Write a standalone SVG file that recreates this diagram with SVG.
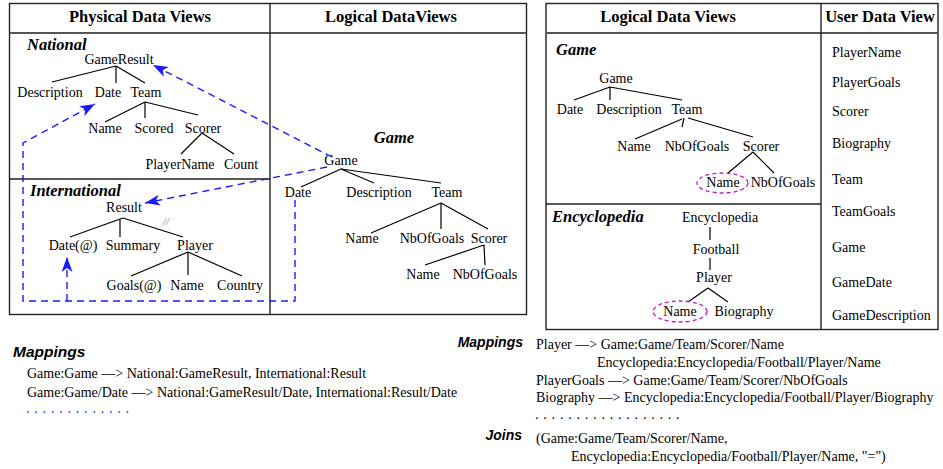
<svg xmlns="http://www.w3.org/2000/svg" width="943" height="469" viewBox="0 0 943 469">
<style>
.box{fill:none;stroke:#222;stroke-width:1.4}
.hdl{stroke:#555;stroke-width:2.2}
.div{stroke:#222;stroke-width:1.4}
.hd{font-family:"Liberation Serif",serif;font-weight:bold;font-size:16.5px;text-anchor:middle;fill:#000}
.bi{font-family:"Liberation Serif",serif;font-weight:bold;font-style:italic;font-size:16.5px;fill:#000}
.t{font-family:"Liberation Serif",serif;font-size:14px;text-anchor:middle;fill:#000}
.ts{font-family:"Liberation Serif",serif;font-size:14px;fill:#000}
.sb{font-family:"Liberation Sans",sans-serif;font-weight:bold;font-style:italic;fill:#000}
.e{stroke:#000;stroke-width:1.2;fill:none}
.bl{fill:none;stroke:#1a1aff;stroke-width:1.4;stroke-dasharray:7 5}
.mg{fill:none;stroke:#c21ac2;stroke-width:1.3;stroke-dasharray:4 3}
</style>
<defs>
<marker id="ah" markerUnits="userSpaceOnUse" markerWidth="16" markerHeight="12" refX="15" refY="5.5" orient="auto">
<path d="M0,0 L15,5.5 L0,11 L4,5.5 z" fill="#1a1aff"/>
</marker>
</defs>

<g id="frames">
<rect class="box" x="9.5" y="3.5" width="517" height="311"/>
<line class="hdl" x1="9.5" y1="33" x2="526.5" y2="33"/>
<line class="div" x1="270" y1="3.5" x2="270" y2="314.5"/>
<line class="div" x1="9.5" y1="179" x2="270" y2="179"/>
<rect class="box" x="546" y="3.5" width="392" height="326"/>
<line class="hdl" x1="546" y1="33" x2="938" y2="33"/>
<line class="div" x1="821" y1="3.5" x2="821" y2="329.5"/>
<line class="div" x1="546" y1="204" x2="821" y2="204"/>
<text class="hd" x="140" y="22">Physical Data Views</text>
<text class="hd" x="391" y="22">Logical DataViews</text>
<text class="hd" x="668" y="22">Logical Data Views</text>
<text class="hd" x="880" y="22">User Data View</text>
</g>

<g id="national">
<text class="bi" x="27" y="50">National</text>
<text class="t" x="119" y="64">GameResult</text>
<path class="e" d="M116,66 L52,82 M116,66 L116,83 M116,66 L145,83"/>
<text class="t" x="50" y="97">Description</text>
<text class="t" x="108" y="97">Date</text>
<text class="t" x="146" y="97">Team</text>
<path class="e" d="M145,102 L105,122 M145,102 L145,118 M145,102 L198,115"/>
<text class="t" x="105" y="133">Name</text>
<text class="t" x="154" y="133">Scored</text>
<text class="t" x="203" y="133">Scorer</text>
<path class="e" d="M202,133 L181,154 M202,133 L234,154"/>
<text class="t" x="180" y="169">PlayerName</text>
<text class="t" x="241" y="169">Count</text>
</g>

<g id="international">
<text class="bi" x="30" y="196">International</text>
<text class="t" x="124" y="212">Result</text>
<path class="e" d="M123,218 L70,237 M120,219 L120,237 M123,218 L183,237"/>
<text x="166" y="225" font-family="Liberation Serif,serif" font-size="11" font-style="italic" fill="#777" text-anchor="middle">//</text>
<text class="t" x="73" y="250">Date(@)</text>
<text class="t" x="133" y="250">Summary</text>
<text class="t" x="195" y="250">Player</text>
<path class="e" d="M188,252 L131,276 M188,252 L188,275 M188,252 L242,276"/>
<text class="t" x="134" y="290">Goals(@)</text>
<text class="t" x="187" y="290">Name</text>
<text class="t" x="240" y="290">Country</text>
</g>

<g id="logical-game">
<text class="bi" x="394" y="143" text-anchor="middle">Game</text>
<text class="t" x="341" y="165">Game</text>
<path class="e" d="M341,169 L301,187 M341,169 L374,183 M341,169 L441,183"/>
<text class="t" x="298" y="197">Date</text>
<text class="t" x="379" y="197">Description</text>
<text class="t" x="447" y="197">Team</text>
<path class="e" d="M441,203 L371,233 M441,203 L441,229 M441,203 L488,229"/>
<text class="t" x="362" y="243">Name</text>
<text class="t" x="432" y="243">NbOfGoals</text>
<text class="t" x="489" y="243">Scorer</text>
<path class="e" d="M484,245 L425,265 M484,245 L485,265"/>
<text class="t" x="423" y="279">Name</text>
<text class="t" x="485" y="279">NbOfGoals</text>
</g>

<g id="right-game">
<text class="bi" x="556" y="55">Game</text>
<text class="t" x="616" y="83">Game</text>
<path class="e" d="M610,87 L574,100 M610,87 L610,100 M610,87 L682,100"/>
<text class="t" x="570" y="114">Date</text>
<text class="t" x="629" y="114">Description</text>
<text class="t" x="687" y="114">Team</text>
<path class="e" d="M682,119 L635,139 M684,118 L682,127 M688,118 L753,137"/>
<text class="t" x="634" y="151">Name</text>
<text class="t" x="697" y="151">NbOfGoals</text>
<text class="t" x="761" y="151">Scorer</text>
<path class="e" d="M753,152 L728,173 M753,152 L774,173"/>
<text class="t" x="723" y="187">Name</text>
<text class="t" x="783" y="187">NbOfGoals</text>
<ellipse class="mg" cx="722.5" cy="183" rx="25.5" ry="10"/>
</g>

<g id="encyclopedia">
<text class="bi" x="552" y="222">Encyclopedia</text>
<text class="t" x="720" y="222">Encyclopedia</text>
<path class="e" d="M710,227 L710,240"/>
<text class="t" x="716" y="254">Football</text>
<path class="e" d="M710,258 L710,270"/>
<text class="t" x="714" y="282">Player</text>
<path class="e" d="M708,288 L688,302 M708,288 L728,302"/>
<text class="t" x="680" y="316">Name</text>
<text class="t" x="744" y="316">Biography</text>
<ellipse class="mg" cx="680" cy="311.5" rx="27" ry="10.5"/>
</g>

<g id="user-view">
<text class="ts" x="832" y="57">PlayerName</text>
<text class="ts" x="832" y="87">PlayerGoals</text>
<text class="ts" x="832" y="116">Scorer</text>
<text class="ts" x="832" y="148">Biography</text>
<text class="ts" x="832" y="184">Team</text>
<text class="ts" x="832" y="216">TeamGoals</text>
<text class="ts" x="832" y="252">Game</text>
<text class="ts" x="832" y="287">GameDate</text>
<text class="ts" x="832" y="320">GameDescription</text>
</g>

<g id="connectors">
<line class="bl" x1="332" y1="157" x2="153" y2="65" marker-end="url(#ah)"/>
<line class="bl" x1="327" y1="167" x2="145" y2="203" marker-end="url(#ah)"/>
<polyline class="bl" points="295,200 295,301 23,301 23,143 95,104" marker-end="url(#ah)"/>
<line class="bl" x1="67" y1="301" x2="67" y2="257" marker-end="url(#ah)"/>
</g>

<g id="mappings-left">
<text class="sb" x="13" y="357" font-size="15.5">Mappings</text>
<text class="ts" x="27" y="378">Game:Game ––&gt; National:GameResult, International:Result</text>
<text class="ts" x="27" y="397">Game:Game/Date ––&gt; National:GameResult/Date, International:Result/Date</text>
<text class="ts" x="26" y="413" fill="#1a1aff" letter-spacing="0.65" style="fill:#1a1aff">. . . . . . . . . . . . .</text>
</g>

<g id="mappings-right">
<text class="sb" x="523" y="347" font-size="14" text-anchor="end">Mappings</text>
<text class="ts" x="536" y="349">Player ––&gt; Game:Game/Team/Scorer/Name</text>
<text class="ts" x="597" y="367">Encyclopedia:Encyclopedia/Football/Player/Name</text>
<text class="ts" x="536" y="385">PlayerGoals ––&gt; Game:Game/Team/Scorer/NbOfGoals</text>
<text class="ts" x="536" y="402">Biography ––&gt; Encyclopedia:Encyclopedia/Football/Player/Biography</text>
<text class="ts" x="535" y="419" letter-spacing="0.65">. . . . . . . . . . . . . . . . . .</text>
<text class="sb" x="522" y="440" font-size="14" text-anchor="end">Joins</text>
<text class="ts" x="536" y="443">(Game:Game/Team/Scorer/Name,</text>
<text class="ts" x="571" y="461">Encyclopedia:Encyclopedia/Football/Player/Name, "=")</text>
</g>
</svg>
